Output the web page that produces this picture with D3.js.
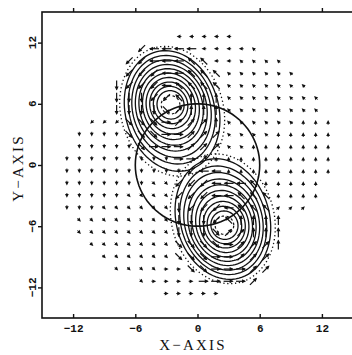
<!DOCTYPE html>
<html><head><meta charset="utf-8">
<script src="https://cdn.jsdelivr.net/npm/d3@7"></script>
<style>body{margin:0;background:#fff}svg{display:block}</style>
</head><body>
<script>
// Axis ticks (data units)
const xTicks = [-12, -6, 0, 6, 12];
const yTicks = [-12, -6, 0, 6, 12];
const xDomain = [-15, 15];
const yDomain = [-15, 15];

// Velocity grid: 22 x 22 nodes starting at -12.6, step 1.2 (row 0 = top).
// '.' = no vector; digits = weak vector (numpad direction: 6 E, 9 NE, 8 N, 7 NW, 4 W, 1 SW, 2 S, 3 SE);
// letters = strong vector (d E, e NE, w N, q NW, a W, z SW, x S, c SE).
const gridStart = -12.6;
const gridStep = 1.2;
const fieldRows = [
  ".........44444........",
  "......zaaaa44447......",
  ".....zzaaaqq447777....",
  ".....zzzaaqqq777777...",
  "....xzzzaqqqq7777777..",
  "....xxxzzqwww77777777.",
  "....xxxxcewww77777777.",
  "..111cccdeeew777777888",
  ".2222cccddeee777788888",
  ".22222cdddeee778888888",
  "222222222dde8888888888",
  "2222222222zaa888888888",
  "222222233zzzaaaq88888.",
  "222223333zzzaaqqq8888.",
  "222333333xzzzaqqq999..",
  ".33333333xxxzqwwww....",
  ".33333333xxxceewww....",
  "..3333333ccccdeeew....",
  "...333333cccddeee.....",
  "....333366ccdddee.....",
  "......36666dddde......",
  "........66666........."
];

// Vortex cores and their streamline ellipses (semi-axes in data units).
// Outer streamlines drift from the core by contourDrift * vortexDrift.
const vortexCenters = [[-2.6, 5.9], [2.6, -5.9]];
const vortexDrift = [[0.15, -0.6], [-0.15, 0.6]];
const contourMinor = [1.3, 1.65, 2.0, 2.35, 2.7, 3.05, 3.4, 3.75, 4.1, 4.5];
const contourMajor = [1.4, 1.85, 2.3, 2.8, 3.3, 3.8, 4.3, 4.85, 5.4, 6.0];
const contourDrift = [0, 0.03, 0.08, 0.15, 0.24, 0.35, 0.48, 0.63, 0.8, 1.0];
const contourTilt = 105;      // degrees, orientation of the major axis
const coreRadius = 0.9;       // dashed core ring
const edge = {major: 6.45, minor: 4.95, drift: 1.05};   // dotted separatrix
const circleRadius = 6;       // circle about the origin

const W = 352, H = 355;
const svg = d3.select("body").append("svg").attr("width", W).attr("height", H);

const x = d3.scaleLinear().domain(xDomain).range([42, 353]);
const y = d3.scaleLinear().domain(yDomain).range([318, 12]);

const ink = "#111";

// Frame
svg.append("rect")
  .attr("x", x(xDomain[0])).attr("y", y(yDomain[1]))
  .attr("width", x(xDomain[1]) - x(xDomain[0]))
  .attr("height", y(yDomain[0]) - y(yDomain[1]))
  .attr("fill", "none").attr("stroke", ink).attr("stroke-width", 1.6);

const fmt = v => (v < 0 ? "\u2212" : "") + Math.abs(v);

// Axes: labels on bottom/left, tick marks on top/left/bottom
const axBottom = d3.axisBottom(x).tickValues(xTicks).tickSize(-4).tickPadding(6).tickFormat(fmt);
const gB = svg.append("g").attr("transform", `translate(0,${y(yDomain[0])})`).call(axBottom);
const axTop = d3.axisTop(x).tickValues(xTicks).tickSize(4).tickFormat("");
const gT = svg.append("g").attr("transform", `translate(0,${y(yDomain[1])})`).call(axTop);
const axLeft = d3.axisLeft(y).tickValues(yTicks).tickSize(4).tickFormat("");
const gL = svg.append("g").attr("transform", `translate(${x(xDomain[0])},0)`).call(axLeft);
[gB, gT, gL].forEach(g => {
  g.select(".domain").remove();
  g.selectAll(".tick line").attr("stroke", ink).attr("stroke-width", 1.4);
});
gB.selectAll(".tick text")
  .attr("font-family", "'Liberation Mono', monospace").attr("font-weight", "bold")
  .attr("font-size", 11).attr("fill", ink);

// Y tick labels, rotated
svg.append("g").selectAll("text").data(yTicks).join("text")
  .attr("transform", d => `translate(36,${y(d)}) rotate(-90)`)
  .attr("text-anchor", "middle")
  .attr("font-family", "'Liberation Mono', monospace").attr("font-weight", "bold")
  .attr("font-size", 11).attr("fill", ink)
  .text(fmt);

// Axis titles
svg.append("text").attr("x", 193).attr("y", 349.5).attr("text-anchor", "middle")
  .attr("font-family", "'Liberation Serif', serif").attr("font-size", 15)
  .attr("letter-spacing", 2.2).attr("fill", ink)
  .text("X\u2212AXIS");
svg.append("text").attr("transform", `translate(23,168) rotate(-90)`).attr("text-anchor", "middle")
  .attr("font-family", "'Liberation Serif', serif").attr("font-size", 15)
  .attr("letter-spacing", 2.2).attr("fill", ink)
  .text("Y\u2212AXIS");

const plot = svg.append("g");

const line = d3.line().x(d => x(d[0])).y(d => y(d[1])).curve(d3.curveLinearClosed);
const ellipsePts = (cx, cy, a, b, tiltDeg) => {
  const th = tiltDeg * Math.PI / 180, n = 90;
  return d3.range(n).map(k => {
    const t = 2 * Math.PI * k / n;
    const p = a * Math.cos(t), q = b * Math.sin(t);
    return [cx + p * Math.cos(th) - q * Math.sin(th), cy + p * Math.sin(th) + q * Math.cos(th)];
  });
};

// Circle about the origin
plot.append("path").attr("d", line(ellipsePts(0, 0, circleRadius, circleRadius, 0)))
  .attr("fill", "none").attr("stroke", ink).attr("stroke-width", 1.6);

// Streamline ellipses around each vortex
vortexCenters.forEach(([cx, cy], v) => {
  const [sx, sy] = vortexDrift[v];
  contourMinor.forEach((b, k) => {
    const f = contourDrift[k];
    plot.append("path")
      .attr("d", line(ellipsePts(cx + f * sx, cy + f * sy, contourMajor[k], b, contourTilt)))
      .attr("fill", "none").attr("stroke", ink).attr("stroke-width", 1.3);
  });
  plot.append("path").attr("d", line(ellipsePts(cx, cy, coreRadius, coreRadius, 0)))
    .attr("fill", "none").attr("stroke", ink).attr("stroke-width", 1.2)
    .attr("stroke-dasharray", "2.5,2.5");
  plot.append("path")
    .attr("d", line(ellipsePts(cx + edge.drift * sx, cy + edge.drift * sy, edge.major, edge.minor, contourTilt)))
    .attr("fill", "none").attr("stroke", ink).attr("stroke-width", 1.3)
    .attr("stroke-dasharray", "1.3,2.6");
});

// Velocity vectors
const dirAngle = {d:0, e:45, w:90, q:135, a:180, z:225, x:270, c:315,
                  "6":0, "9":45, "8":90, "7":135, "4":180, "1":225, "2":270, "3":315};
const vectors = [];
fieldRows.forEach((row, j) => {
  [...row].forEach((ch, i) => {
    if (ch === ".") return;
    vectors.push({gx: gridStart + gridStep * i, gy: -gridStart - gridStep * j,
                  ang: dirAngle[ch], strong: /[a-z]/.test(ch)});
  });
});
const vg = plot.append("g");
vectors.forEach(v => {
  const g = vg.append("g")
    .attr("transform", `translate(${x(v.gx)},${y(v.gy)}) rotate(${-v.ang})`);
  if (v.strong) {
    g.append("line").attr("x1", -5).attr("x2", 4).attr("y1", 0).attr("y2", 0)
      .attr("stroke", ink).attr("stroke-width", 1.2);
    g.append("path").attr("d", "M5,0L1,-2L1,2Z").attr("fill", ink);
  } else {
    g.append("path").attr("d", "M2.2,0L-1.6,-1.9L-1.6,1.9Z").attr("fill", ink);
    g.append("line").attr("x1", -2.6).attr("x2", 0).attr("y1", 0).attr("y2", 0)
      .attr("stroke", ink).attr("stroke-width", 0.9);
  }
});
</script>
</body></html>
